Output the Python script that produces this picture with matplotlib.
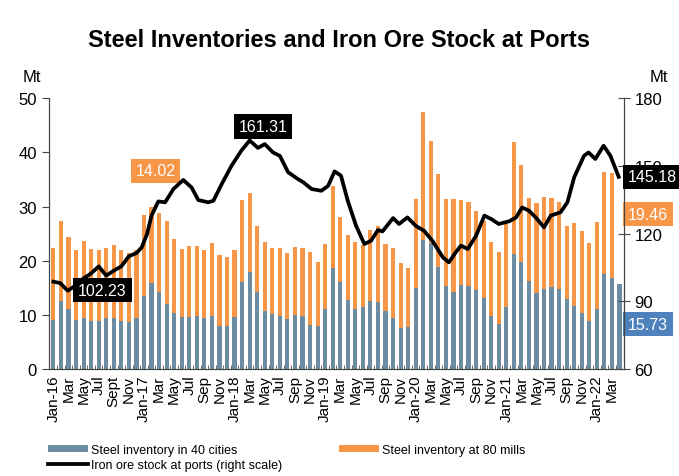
import numpy as np
import matplotlib.pyplot as plt

plt.rcParams['font.family'] = ['Liberation Sans', 'DejaVu Sans']

# monthly bars, Jan-16 .. Apr-22 (Mt)
city = [9.1, 12.6, 11.1, 9.1, 9.4, 8.8, 8.8, 9.4, 9.4, 8.8, 8.6, 9.4,
        13.4, 15.9, 14.3, 12.1, 10.3, 9.6, 9.6, 9.7, 9.5, 9.8, 8.0, 7.9,
        9.6, 16.1, 17.9, 14.2, 10.7, 10.2, 9.8, 9.3, 10.0, 9.8, 8.2, 7.9,
        11.1, 18.7, 16.0, 12.7, 11.1, 11.4, 12.6, 12.4, 10.8, 9.4, 7.6, 7.7,
        15.0, 23.8, 23.3, 18.8, 15.4, 14.3, 15.6, 15.4, 14.6, 13.1, 9.8, 8.4,
        11.5, 21.2, 19.7, 16.2, 14.1, 14.7, 15.2, 14.8, 12.9, 11.7, 10.4, 8.8,
        11.1, 17.6, 16.8, 15.73]
mills = [13.2, 14.7, 13.2, 12.9, 14.3, 13.4, 13.2, 12.9, 13.5, 13.1, 12.8, 12.6,
         15.0, 14.02, 14.5, 15.2, 13.7, 12.6, 13.1, 13.0, 12.5, 13.4, 13.1, 12.8,
         12.3, 15.2, 14.7, 12.3, 12.7, 12.2, 12.5, 12.2, 12.5, 12.5, 13.5, 11.9,
         12.0, 15.1, 12.0, 12.1, 12.4, 11.5, 13.1, 14.0, 12.2, 12.9, 11.9, 10.9,
         16.4, 23.7, 18.9, 17.3, 16.0, 17.1, 15.6, 15.4, 14.5, 14.3, 13.6, 13.3,
         15.2, 20.7, 18.0, 15.4, 16.6, 17.1, 16.3, 16.0, 13.6, 15.3, 15.0, 14.5,
         16.0, 18.8, 19.46, np.nan]

# iron ore stock at ports (mn t), time in months since Jan-16
ore_t = [0, 0.9, 1.9, 3.0, 4.0, 5.0, 6.0, 7.0, 8.0, 9.0, 10.0, 11.0, 11.7, 12.4,
         13.0, 13.9, 14.8, 15.9, 17.2, 18.3, 19.2, 20.5, 21.2, 22.3, 23.6, 24.9,
         26.0, 27.1, 28.0, 29.1, 30.0, 31.1, 32.4, 33.1, 34.2, 35.5, 36.4, 37.25,
         38.1, 39.0, 40.1, 41.2, 42.1, 43.0, 43.6, 45.0, 45.8, 46.9, 48.0, 49.1,
         50.2, 51.6, 52.4, 53.3, 54.0, 54.9, 56.0, 57.1, 58.0, 59.0, 60.4, 61.3,
         62.1, 63.0, 63.9, 65.0, 65.9, 67.2, 68.1, 69.0, 70.3, 70.9, 71.8, 72.9,
         73.8, 74.9]
ore = [98.7, 98.1, 94.7, 97.2, 100.2, 102.4, 105.5, 101.4, 103.6, 105.5, 110.0, 111.4,
       113.9, 119.8, 128.0, 134.3, 133.9, 139.8, 143.8, 140.5, 134.9, 133.9, 134.6,
       142.0, 150.1, 156.8, 161.31, 158.0, 159.7, 156.0, 154.5, 147.2, 144.2, 142.8,
       139.8, 139.0, 141.2, 147.6, 145.7, 134.6, 123.5, 115.4, 116.9, 121.6, 121.0,
       126.9, 124.3, 127.2, 123.5, 121.3, 116.9, 109.5, 107.3, 111.7, 114.7, 113.2,
       119.1, 128.0, 126.5, 124.3, 125.5, 127.2, 131.6, 130.2, 127.2, 122.8, 128.0,
       129.5, 133.9, 145.0, 154.5, 156.0, 153.1, 159.0, 154.5, 145.18]

tick_labels = ['Jan-16', 'Mar', 'May', 'Jul', 'Sept', 'Nov']
for yr in ['17', '18', '19', '20', '21']:
    tick_labels += ['Jan-' + yr, 'Mar', 'May', 'Jul', 'Sep', 'Nov']
tick_labels += ['Jan-22', 'Mar']

c_city = '#6b8ca2'
c_mill = '#f79646'

x = np.arange(len(city))
city = np.array(city)
mills = np.array(mills)

fig = plt.figure(figsize=(6.79, 4.77), dpi=100)
ax = fig.add_axes([0.072, 0.2243, 0.847, 0.5675])
ax2 = ax.twinx()

ax.bar(x, city, width=0.55, color=c_city, label='Steel inventory in 40 cities')
ax.bar(x, mills, width=0.55, bottom=city, color=c_mill, label='Steel inventory at 80 mills')
ax2.plot(ore_t, ore, color='black', lw=2.7, solid_joinstyle='round',
         label='Iron ore stock at ports (right scale)')

ax.set_xlim(-0.6, len(city) - 0.4)
ax.set_ylim(0, 50)
ax2.set_ylim(60, 180)
ax.set_yticks(range(0, 51, 10))
ax2.set_yticks(range(60, 181, 30))

ax.set_xticks(x[::2])
ax.set_xticklabels(tick_labels, rotation=90, fontsize=11)
ax.set_xticks(x[:-1] + 0.5, minor=True)
ax.tick_params(axis='x', which='major', length=0, pad=4)
ax.tick_params(axis='x', which='minor', length=3, direction='in', color='#555555')
ax.tick_params(axis='y', labelsize=12, length=5, color='#444444')
ax2.tick_params(axis='y', labelsize=12, length=8, direction='inout', color='#444444')

for a in (ax, ax2):
    a.spines['top'].set_visible(False)
    for s in ('left', 'right', 'bottom'):
        a.spines[s].set_color('#444444')

fig.text(0.5, 0.915, 'Steel Inventories and Iron Ore Stock at Ports',
         ha='center', va='center', fontsize=17, fontweight='bold')
fig.text(0.033, 0.838, 'Mt', ha='left', va='center', fontsize=12)
fig.text(0.957, 0.838, 'Mt', ha='left', va='center', fontsize=12)

# value boxes
box = dict(boxstyle='square,pad=0.3', lw=0)
ax2.text(6.5, 95.0, '102.23', ha='center', va='center', color='white', fontsize=11.5,
         bbox=dict(box, fc='black'))
ax.text(13.5, 36.6, '14.02', ha='center', va='center', color='white', fontsize=11.5,
        bbox=dict(box, fc=c_mill))
ax2.text(27.8, 167.5, '161.31', ha='center', va='center', color='white', fontsize=11.5,
         bbox=dict(box, fc='black'))
ax2.text(76.1, ore[-1], '145.18', ha='left', va='center', color='white', fontsize=11.5,
         bbox=dict(box, fc='black'), clip_on=False, zorder=5)
ax.text(76.1, 28.6, '19.46', ha='left', va='center', color='white', fontsize=11.5,
        bbox=dict(box, fc=c_mill), clip_on=False)
ax.text(76.1, 8.3, '15.73', ha='left', va='center', color='white', fontsize=11.5,
        bbox=dict(box, fc='#4f81bd'), clip_on=False)

h1, l1 = ax.get_legend_handles_labels()
h2, l2 = ax2.get_legend_handles_labels()
fig.legend([h1[0], h2[0], h1[1]], [l1[0], l2[0], l1[1]], ncol=2,
           loc='upper left', bbox_to_anchor=(48 / 679, 1 - 445 / 477), frameon=False,
           fontsize=9, handlelength=3.2, handleheight=0.45, handletextpad=0.25,
           columnspacing=4.5, labelspacing=0.2, borderpad=0, borderaxespad=0)

fig.savefig('out.png', dpi=100)
